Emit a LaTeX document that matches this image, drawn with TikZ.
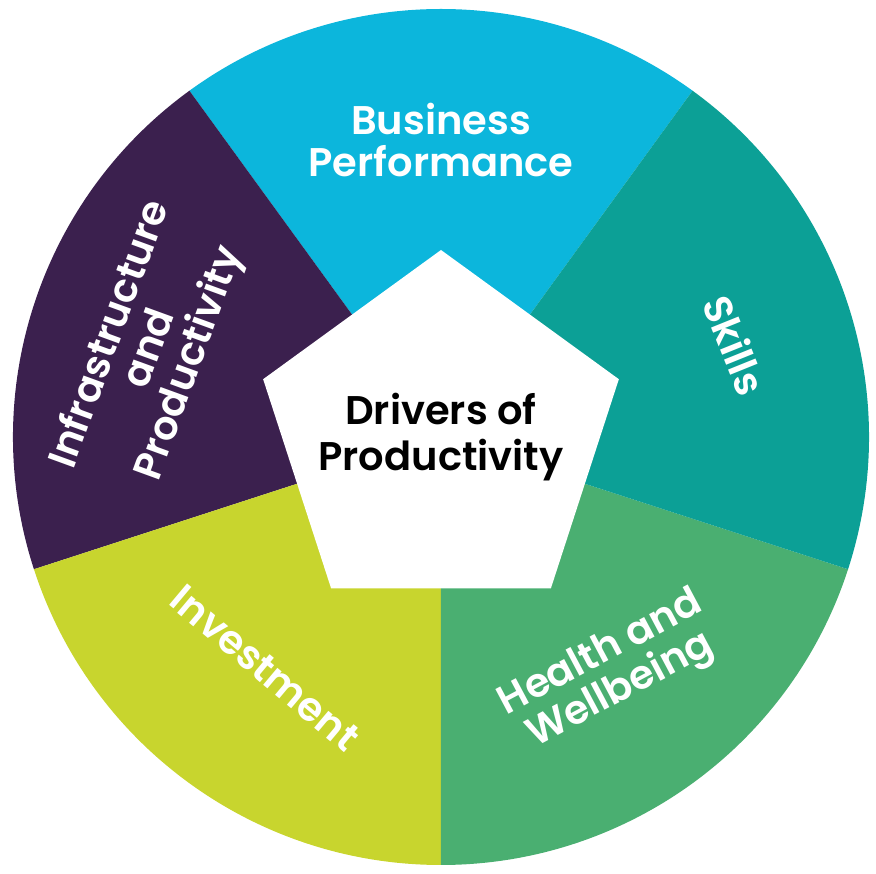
\documentclass[tikz,border=0pt]{standalone}
\usepackage{fontspec}
\setmainfont{Poppins}[BoldFont={Poppins SemiBold}]
\definecolor{cBus}{RGB}{12,182,220}
\definecolor{cSki}{RGB}{12,160,150}
\definecolor{cHea}{RGB}{74,175,113}
\definecolor{cInv}{RGB}{200,213,46}
\definecolor{cInf}{RGB}{59,32,78}
\tikzset{
  lbl/.style={text=white, align=center, inner sep=0pt, font=\bfseries\fontsize{40}{42}\selectfont},
  hubtext/.style={align=center, inner sep=0pt, font=\bfseries\fontsize{40}{46}\selectfont}
}
\begin{document}
\begin{tikzpicture}[x=1pt,y=1pt]
\useasboundingbox (-441,-437) rectangle (435,437);
\def\R{428}
\fill[cBus] (0,0) -- (54:\R) arc[start angle=54, end angle=126, radius=\R] -- cycle;
\fill[cInf] (0,0) -- (126:\R) arc[start angle=126, end angle=198, radius=\R] -- cycle;
\fill[cInv] (0,0) -- (198:\R) arc[start angle=198, end angle=270, radius=\R] -- cycle;
\fill[cHea] (0,0) -- (270:\R) arc[start angle=270, end angle=342, radius=\R] -- cycle;
\fill[cSki] (0,0) -- (-18:\R) arc[start angle=-18, end angle=54, radius=\R] -- cycle;
\coordinate (p1) at (90:187);
\coordinate (p2) at (162:187);
\coordinate (p3) at (234:187);
\coordinate (p4) at (306:187);
\coordinate (p5) at (18:187);
\fill[white] (p1) -- (p2) -- (p3) -- (p4) -- (p5) -- cycle;
\node[hubtext] (hub) at (0,0) {Drivers of\\Productivity};
\node[lbl] (bus) at (0,297) {Business\\Performance};
\node[lbl, rotate=-68] (ski) at (294,92) {Skills};
\node[lbl, rotate=28] (hea) at (170,-236) {Health and\\Wellbeing};
\node[lbl, rotate=-40] (inv) at (-176,-231) {Investment};
\node[lbl, rotate=70] (inf) at (-290,88) {Infrastructure\\and\\Productivity};
\end{tikzpicture}
\end{document}
